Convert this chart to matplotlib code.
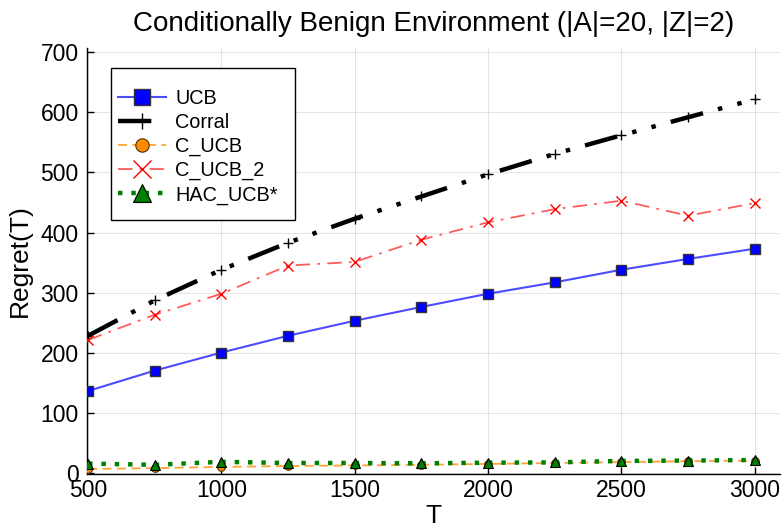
import numpy as np
import matplotlib
matplotlib.use('Agg')
import matplotlib.pyplot as plt
from matplotlib.patches import Rectangle

plt.rcParams['font.family'] = ['Liberation Sans', 'DejaVu Sans']

T = [500, 750, 1000, 1250, 1500, 1750, 2000, 2250, 2500, 2750, 3000]
ucb = [136, 170, 200, 228, 253, 276, 298, 317, 338, 356, 373]
corral = [228, 287, 338, 383, 423, 460, 497, 531, 562, 592, 622]
c_ucb = [6, 7.5, 9.5, 11, 12, 13, 14.5, 16, 17.5, 19, 20]
c_ucb_2 = [221, 263, 298, 345, 351, 388, 417, 439, 453, 428, 449]
hac_ucb = [15, 13, 18, 16, 16, 15.5, 16.5, 17, 19.5, 20, 21]

title = 'Conditionally Benign Environment (|A|=20, |Z|=2)'
x_ticks = [500, 1000, 1500, 2000, 2500, 3000]
y_ticks = [0, 100, 200, 300, 400, 500, 600, 700]

fig = plt.figure(figsize=(7.84, 5.3), dpi=100)
ax = fig.add_axes([0.111, 0.106, 0.884, 0.803])

ax.plot(T, ucb, color=(0, 0, 1, 0.7), lw=1.5, marker='s', ms=6.5,
        mfc='blue', mec=(0.2, 0.2, 0.2), mew=1, label='UCB', zorder=3)
ax.plot(T, corral, color='black', lw=3.2, ls=(0, (7.5, 3.5, 1, 3.5, 1, 3.5)),
        marker='+', ms=6.5, mew=1, mec='black', label='Corral', zorder=3)
ax.plot(T, c_ucb, color=(1, 0.55, 0, 0.8), lw=1.3, ls=(0, (5, 3)),
        marker='o', ms=5.5, mfc='darkorange', mec=(0.3, 0.2, 0), mew=0.8,
        label='C_UCB', zorder=3)
ax.plot(T, c_ucb_2, color=(1, 0.2, 0.2, 0.8), lw=1.3, ls=(0, (8, 4, 1.5, 4)),
        marker='x', ms=7.5, mec='red', mew=1, label='C_UCB_2', zorder=3)
ax.plot(T, hac_ucb, color='green', lw=3.2, ls=(0, (1, 2)),
        marker='^', ms=7.5, mfc='green', mec='black', mew=0.8,
        label='HAC_UCB*', zorder=4)

ax.set_xlim(496, 3095)
ax.set_ylim(-2, 707)
ax.set_xticks(x_ticks)
ax.set_yticks(y_ticks)
ax.tick_params(direction='in', length=5, width=1, labelsize=16.5)
ax.tick_params(axis='y', pad=6)
ax.tick_params(axis='x', pad=4)
ax.grid(True, color='black', alpha=0.1, lw=0.8)
for s in ['top', 'right']:
    ax.spines[s].set_visible(False)
for s in ['left', 'bottom']:
    ax.spines[s].set_linewidth(1)

ax.set_title(title, fontsize=20, pad=12.5)
ax.set_xlabel('T', fontsize=19, labelpad=1.5)
ax.set_ylabel('Regret(T)', fontsize=19, labelpad=6)

# legend box drawn by hand: wider top/bottom margin than sides
ax.add_patch(Rectangle((0.0346, 0.596), 0.2655, 0.357, transform=ax.transAxes,
                       facecolor='white', edgecolor='black', lw=1, zorder=5))
leg = ax.legend(loc='upper left', bbox_to_anchor=(0.044, 0.905), fontsize=14.3,
                markerscale=1.75, handlelength=2.45, handletextpad=0.45,
                labelspacing=0.255, borderpad=0, borderaxespad=0, frameon=False)
leg.set_zorder(6)

fig.savefig('out.png', dpi=100)
